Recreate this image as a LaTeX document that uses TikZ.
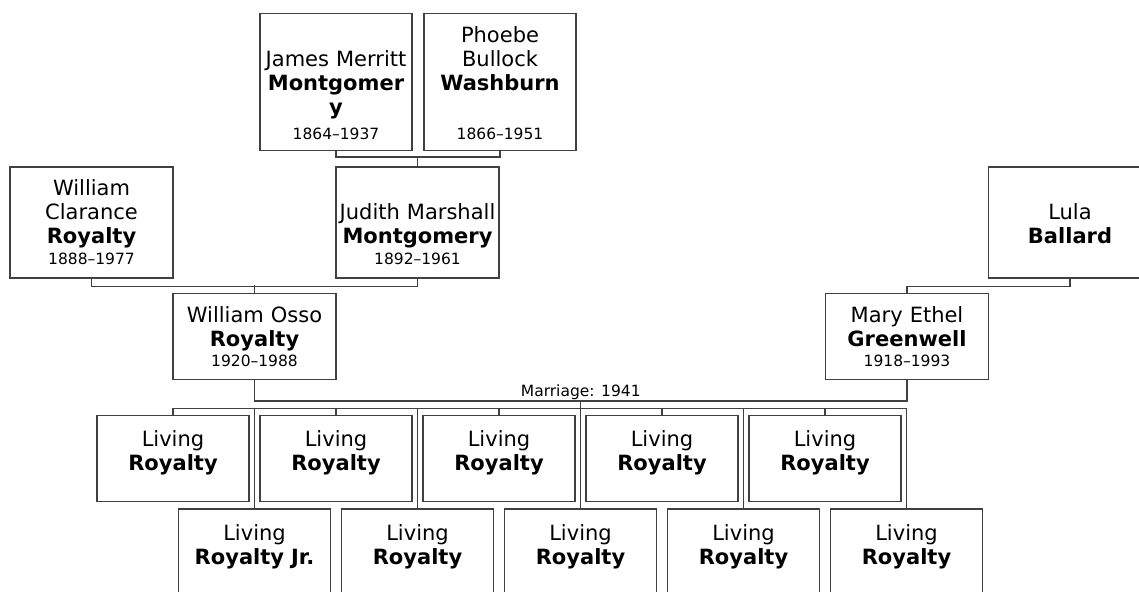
\documentclass[tikz,border=0pt]{standalone}
\usepackage{fontspec}
\setmainfont{DejaVu Sans}
\newcommand\knamefont{\fontsize{10.5}{12}\selectfont}
\newcommand\kdatefont{\fontsize{7.75}{9.5}\selectfont}
\tikzset{
  box/.style={draw=black!75, line width=0.65pt, fill=white, inner sep=0pt, align=center, font=\knamefont, text height=14.5pt},
  kelder/.style={box, text width=76pt, text depth=54pt},
  kparent/.style={box, text width=81.5pt, text depth=41pt},
  kcouple/.style={box, text width=81.5pt, text depth=28.5pt},
  kchild/.style={box, text width=76pt, text height=15.5pt, text depth=27.25pt},
  link/.style={draw=black!75, line width=0.65pt},
}
\begin{document}
\begin{tikzpicture}[x=0.5pt, y=-0.5pt]
    \useasboundingbox (0,0) rectangle (1139,591);
    % grandparents
    \node[kelder] (james) at (336,81.7) {\mbox{}\\James Merritt\\\textbf{Montgomer}\\\textbf{y}\\[0.8pt]{\kdatefont 1864--1937}};
    \node[kelder] (phoebe) at (500,81.7) {Phoebe\\Bullock\\\textbf{Washburn}\\\mbox{}\\[0.8pt]{\kdatefont 1866--1951}};
    \node[kparent] (clarance) at (91.5,222.4) {William\\Clarance\\\textbf{Royalty}\\[-1.8pt]{\kdatefont 1888--1977}};
    \node[kparent] (judith) at (417.5,222.4) {\mbox{}\\Judith Marshall\\\textbf{Montgomery}\\[-1.8pt]{\kdatefont 1892--1961}};
    \node[kparent] (lula) at (1070,222.4) {\mbox{}\\Lula\\\textbf{Ballard}};
    % couple
    \node[kcouple] (osso) at (254.5,336.3) {William Osso\\\textbf{Royalty}\\[-1.8pt]{\kdatefont 1920--1988}};
    \node[kcouple] (mary) at (907,336.3) {Mary Ethel\\\textbf{Greenwell}\\[-1.8pt]{\kdatefont 1918--1993}};
    % children
    \node[kchild] (kid1) at (173,458.4) {Living\\\textbf{Royalty}};
    \node[kchild] (kid2) at (254.5,551.8) {Living\\\textbf{Royalty Jr.}};
    \node[kchild] (kid3) at (336,458.4) {Living\\\textbf{Royalty}};
    \node[kchild] (kid4) at (417.5,551.8) {Living\\\textbf{Royalty}};
    \node[kchild] (kid5) at (499,458.4) {Living\\\textbf{Royalty}};
    \node[kchild] (kid6) at (580.5,551.8) {Living\\\textbf{Royalty}};
    \node[kchild] (kid7) at (662,458.4) {Living\\\textbf{Royalty}};
    \node[kchild] (kid8) at (743.5,551.8) {Living\\\textbf{Royalty}};
    \node[kchild] (kid9) at (825,458.4) {Living\\\textbf{Royalty}};
    \node[kchild] (kid10) at (906.5,551.8) {Living\\\textbf{Royalty}};
    \coordinate (fam) at (580.5,400.3);
    \coordinate (brood) at (580.5,408.3);
    % lines
    \draw[link] (james.south) -- ++(0,6) -| (phoebe.south);
    \draw[link] (judith.north) -- ++(0,-10.3);
    \draw[link] (clarance.south) -- ++(0,8) -| (judith.south);
    \draw[link] (osso.north) -- ++(0,-7.5);
    \draw[link] (lula.south) -- ++(0,8) -| (mary.north);
    \draw[link] (osso.south) -- ++(0,21) -| (mary.south) node[pos=0.25, anchor=base, yshift=2pt, font=\kdatefont]{Marriage: 1941};
    \draw[link] (fam) -- (brood);
    \draw[link] (kid1.north) |- (brood) -| (kid10.north);
    \draw[link] (kid2.north) -- (kid2.north |- brood);
    \draw[link] (kid3.north) -- (kid3.north |- brood);
    \draw[link] (kid4.north) -- (kid4.north |- brood);
    \draw[link] (kid5.north) -- (kid5.north |- brood);
    \draw[link] (kid6.north) -- (kid6.north |- brood);
    \draw[link] (kid7.north) -- (kid7.north |- brood);
    \draw[link] (kid8.north) -- (kid8.north |- brood);
    \draw[link] (kid9.north) -- (kid9.north |- brood);
  \end{tikzpicture}
\end{document}
